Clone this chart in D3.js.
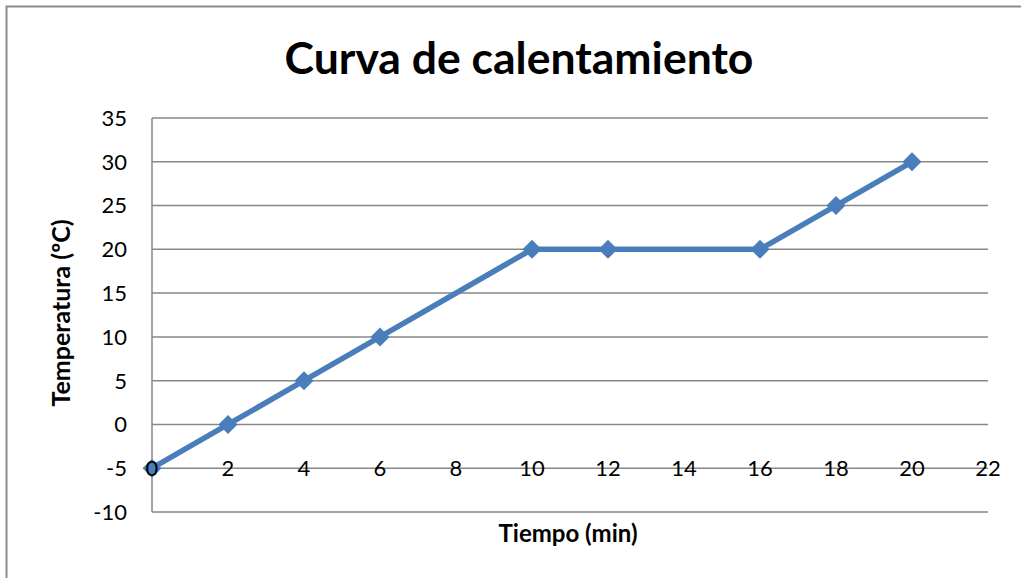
<!DOCTYPE html>
<html><head><meta charset="utf-8">
<script src="https://cdn.jsdelivr.net/npm/d3@7"></script>
<style>body{margin:0;background:#fff}svg{display:block}</style>
</head><body>
<svg id="c" width="1021" height="578"></svg>
<script>
const tiempo = [0, 2, 4, 6, 10, 12, 16, 18, 20];
const temperatura = [-5, 0, 5, 10, 20, 20, 20, 25, 30];
const xTicks = [0, 2, 4, 6, 8, 10, 12, 14, 16, 18, 20, 22];
const yTicks = [-10, -5, 0, 5, 10, 15, 20, 25, 30, 35];
const title = "Curva de calentamiento";
const xTitle = "Tiempo (min)";
const yTitle = "Temperatura (ºC)";

const svg = d3.select("#c");
const font = "Lato, 'Open Sans', sans-serif";
const x = d3.scaleLinear().domain([0, 22]).range([152, 988]);
const y = d3.scaleLinear().domain([-10, 35]).range([512, 118]);

// outer border
svg.append("path").attr("d", "M6.5,578 L6.5,6.5 L1021,6.5")
  .attr("fill", "none").attr("stroke", "#8c8c8c").attr("stroke-width", 2);

// gridlines
svg.append("g").selectAll("line").data(yTicks).join("line")
  .attr("x1", x(0)).attr("x2", x(22)).attr("y1", d => y(d)).attr("y2", d => y(d))
  .attr("stroke", "#878787").attr("stroke-width", 1.5);
// y axis line
svg.append("line").attr("x1", x(0)).attr("x2", x(0)).attr("y1", y(35)).attr("y2", y(-10))
  .attr("stroke", "#878787").attr("stroke-width", 1.5);

// line
const pts = tiempo.map((t, i) => [t, temperatura[i]]);
svg.append("path").datum(pts)
  .attr("d", d3.line().x(d => x(d[0])).y(d => y(d[1])))
  .attr("fill", "none").attr("stroke", "#4a7ebb").attr("stroke-width", 5.5).attr("stroke-linejoin", "round");
svg.append("g").selectAll("path").data(pts).join("path")
  .attr("transform", d => `translate(${x(d[0])},${y(d[1])})`)
  .attr("d", d3.symbol(d3.symbolDiamond2, 230)())
  .attr("fill", "#4a7ebb");

// y tick labels
svg.append("g").selectAll("text").data(yTicks).join("text")
  .attr("x", 127).attr("y", d => y(d)).attr("dy", "0.36em").attr("text-anchor", "end")
  .attr("font-family", font).attr("font-size", 22).attr("fill", "#000").text(d => d);
// x tick labels (on the -5 line)
svg.append("g").selectAll("text").data(xTicks).join("text")
  .attr("x", d => x(d)).attr("y", y(-5)).attr("dy", "0.36em").attr("text-anchor", "middle")
  .attr("font-family", font).attr("font-size", 22).attr("fill", "#000").text(d => d);

// titles
svg.append("text").attr("x", 519).attr("y", 74).attr("text-anchor", "middle")
  .attr("font-family", font).attr("font-weight", "bold").attr("font-size", 44.5).text(title);
svg.append("text").attr("x", 568).attr("y", 542).attr("text-anchor", "middle")
  .attr("font-family", font).attr("font-weight", "bold").attr("font-size", 24).text(xTitle);
svg.append("text").attr("transform", "translate(70,313) rotate(-90)").attr("text-anchor", "middle")
  .attr("font-family", font).attr("font-weight", "bold").attr("font-size", 25).text(yTitle);
</script>
</body></html>
